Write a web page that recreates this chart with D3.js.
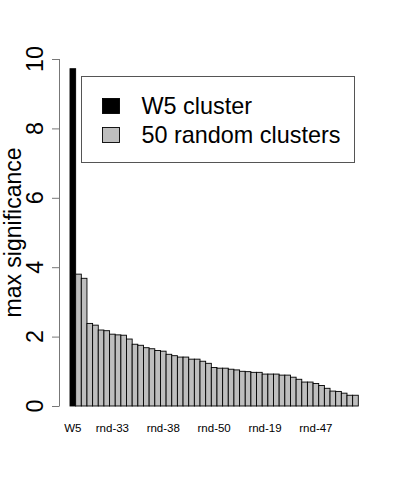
<!DOCTYPE html>
<html>
<head>
<meta charset="utf-8">
<script src="https://cdn.jsdelivr.net/npm/d3@7"></script>
<style>
  body { margin: 0; background: #fff; }
  text { font-family: "Liberation Sans", Arial, sans-serif; }
</style>
</head>
<body>
<div id="chart"></div>
<script>
// W5 cluster value, then the 50 random clusters sorted high to low
const w5Value = [9.72];
const randomValues = [3.80, 3.68, 2.38, 2.33, 2.19, 2.17, 2.07, 2.05, 2.04, 1.93,
    1.78, 1.75, 1.68, 1.65, 1.60, 1.58, 1.49, 1.45, 1.41, 1.41,
    1.35, 1.35, 1.29, 1.23, 1.11, 1.09, 1.09, 1.06, 1.04, 1.00,
    0.99, 0.97, 0.97, 0.92, 0.92, 0.92, 0.89, 0.89, 0.83, 0.77,
    0.69, 0.69, 0.65, 0.59, 0.51, 0.43, 0.42, 0.37, 0.31, 0.31];
// only the bar names that are drawn under the axis
const labelIndex = [0, 7, 16, 25, 34, 43];
const labelNames = ["W5", "rnd-33", "rnd-38", "rnd-50", "rnd-19", "rnd-47"];
const yTicks = [0, 2, 4, 6, 8, 10];
const legendNames = ["W5 cluster", "50 random clusters"];
const legendColors = ["#000000", "#bebebe"];

document.addEventListener('DOMContentLoaded', function () {
    drawChart();
});

function drawChart() {
    const width = 400, height = 480;
    const values = w5Value.concat(randomValues);

    const svg = d3.select("#chart")
        .append("svg")
        .attr("width", width)
        .attr("height", height);

    // bars sit side by side with no gap
    const x = d3.scaleBand()
        .domain(d3.range(values.length))
        .range([70, 358.3])
        .padding(0);
    const y = d3.scaleLinear()
        .domain([0, 10])
        .range([406, 59]);

    svg.selectAll("rect.bar")
        .data(values)
        .join("rect")
        .attr("class", "bar")
        .attr("x", (d, i) => x(i))
        .attr("y", d => y(d))
        .attr("width", x.bandwidth())
        .attr("height", d => y(0) - y(d))
        .attr("fill", (d, i) => i === 0 ? legendColors[0] : legendColors[1])
        .attr("stroke", "#000")
        .attr("stroke-width", 0.9);

    // y axis, R style: line only from first to last tick
    const yAxis = svg.append("g");
    yAxis.append("line")
        .attr("x1", 59.5).attr("x2", 59.5)
        .attr("y1", y(10)).attr("y2", y(0))
        .attr("stroke", "#777");
    yAxis.selectAll("line.tick")
        .data(yTicks)
        .join("line")
        .attr("class", "tick")
        .attr("x1", 52).attr("x2", 59.5)
        .attr("y1", d => y(d) + 0.5).attr("y2", d => y(d) + 0.5)
        .attr("stroke", "#777");
    yAxis.selectAll("text")
        .data(yTicks)
        .join("text")
        .attr("transform", d => `translate(43, ${y(d)}) rotate(-90)`)
        .attr("text-anchor", "middle")
        .style("font-size", "23.4px")
        .text(d => d);

    // axis title
    svg.append("text")
        .attr("transform", `translate(20.5, ${(y(0) + y(10)) / 2}) rotate(-90)`)
        .attr("text-anchor", "middle")
        .style("font-size", "23px")
        .text("max significance");

    // bar names
    svg.selectAll("text.name")
        .data(labelIndex)
        .join("text")
        .attr("class", "name")
        .attr("x", (d, i) => x(d) + x.bandwidth() / 2)
        .attr("y", 432)
        .attr("text-anchor", "middle")
        .style("font-size", "11.5px")
        .text((d, i) => labelNames[i]);

    // legend box
    const legend = svg.append("g");
    legend.append("rect")
        .attr("x", 81.5).attr("y", 76.5)
        .attr("width", 273).attr("height", 86)
        .attr("fill", "#fff")
        .attr("stroke", "#555");
    legend.selectAll("rect.key")
        .data(legendNames)
        .join("rect")
        .attr("class", "key")
        .attr("x", 102.5)
        .attr("y", (d, i) => 98.5 + i * 29)
        .attr("width", 17)
        .attr("height", 15)
        .attr("fill", (d, i) => legendColors[i])
        .attr("stroke", "#000")
        .attr("stroke-width", 0.9);
    legend.selectAll("text")
        .data(legendNames)
        .join("text")
        .attr("x", 141.5)
        .attr("y", (d, i) => 114 + i * 29)
        .style("font-size", "23.4px")
        .text(d => d);
}
</script>
</body>
</html>
